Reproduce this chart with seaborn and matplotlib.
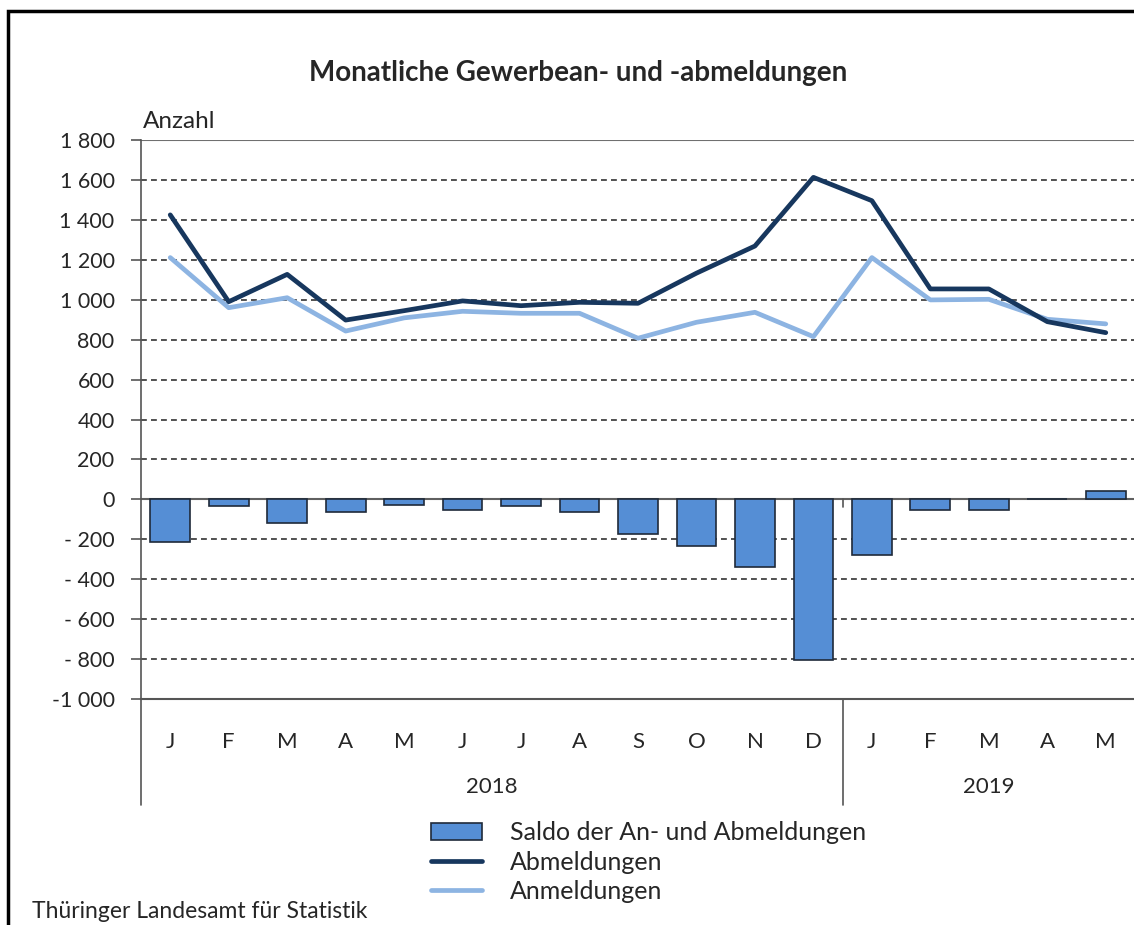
import numpy as np
import pandas as pd
import seaborn as sns
import matplotlib.pyplot as plt
from matplotlib.patches import Rectangle
import matplotlib.transforms as mtransforms

# values (Jan 2018 - May 2019)
months = ["J", "F", "M", "A", "M", "J", "J", "A", "S", "O", "N", "D",
          "J", "F", "M", "A", "M"]
years = ["2018", "2019"]
abmeldungen = [1425, 990, 1127, 898, 945, 994, 970, 987, 982, 1133, 1269, 1613,
               1496, 1054, 1054, 890, 835]
anmeldungen = [1211, 960, 1010, 843, 909, 942, 932, 932, 807, 887, 937, 815,
               1211, 999, 1002, 902, 879]
saldo = [-215, -35, -118, -61, -28, -55, -35, -61, -175, -233, -337, -804,
         -278, -55, -55, 4, 42]
yticks = [1800, 1600, 1400, 1200, 1000, 800, 600, 400, 200, 0,
          -200, -400, -600, -800, -1000]
ytick_labels = ["1 800", "1 600", "1 400", "1 200", "1 000", "800", "600", "400",
                "200", "0", "- 200", "- 400", "- 600", "- 800", "-1 000"]

df = pd.DataFrame({"pos": np.arange(len(months)), "saldo": saldo,
                   "ab": abmeldungen, "an": anmeldungen})

sns.set_style("white")
plt.rcParams["font.family"] = ["Lato", "DejaVu Sans"]

fig = plt.figure(figsize=(11.34, 9.25), dpi=100)
ax = fig.add_axes([141 / 1134, 1 - 699 / 925, 994 / 1134, 559 / 925])

for v in yticks[1:-1]:
    if v != 0:
        ax.axhline(v, color="#333333", lw=1.2, ls=(0, (3.5, 2.5)), zorder=0)
ax.axhline(1800, color="#707070", lw=1.5, zorder=0)
ax.axhline(0, color="#606060", lw=1.5, zorder=1)

sns.barplot(data=df, x="pos", y="saldo", color="#558ED5", width=0.68,
            edgecolor="#1F2A3A", linewidth=1.2, saturation=1, ax=ax,
            label="Saldo der An- und Abmeldungen", zorder=2)
sns.lineplot(data=df, x="pos", y="ab", color="#17375E", lw=3.4, ax=ax,
             label="Abmeldungen", zorder=4)
sns.lineplot(data=df, x="pos", y="an", color="#8DB4E2", lw=3.4, ax=ax,
             label="Anmeldungen", zorder=3)

ax.set_xlim(-0.5, len(months) - 0.5)
ax.set_ylim(-1000, 1800)
ax.set_yticks(yticks)
ax.set_yticklabels(ytick_labels, fontsize=15.5)
ax.set_xticks(df["pos"])
ax.set_xticklabels(months, fontsize=16)
ax.tick_params(axis="x", length=0, pad=24)
ax.tick_params(axis="y", left=True, length=7, width=1.2, color="#555555", pad=12)
ax.set_xlabel("")
ax.set_ylabel("")
for s in ["top", "right"]:
    ax.spines[s].set_visible(False)
ax.spines["left"].set_color("#555555")
ax.spines["left"].set_linewidth(1.2)
ax.spines["bottom"].set_color("#555555")
ax.spines["bottom"].set_linewidth(1.5)
ax.legend().remove()

# small tick at the year change on the zero line
ax.plot([11.5, 11.5], [0, -40], color="#555555", lw=1.2, zorder=1)

# year labels and separators below the axis
trans = mtransforms.blended_transform_factory(ax.transData, ax.transAxes)
for xs in [-0.5, 11.5]:
    ax.plot([xs, xs], [0, -0.19], color="#555555", lw=1.2, transform=trans,
            clip_on=False)
ax.text(5.5, -0.157, years[0], transform=trans, ha="center", va="center", fontsize=16)
ax.text(14.0, -0.157, years[1], transform=trans, ha="center", va="center", fontsize=16)

fig.text(578 / 1134, 1 - 73 / 925, "Monatliche Gewerbean- und -abmeldungen",
         ha="center", va="center", fontsize=20, fontweight="bold")
fig.text(143 / 1134, 1 - 121 / 925, "Anzahl", ha="left", va="center", fontsize=17.5)
fig.text(32 / 1134, 1 - 911 / 925, "Thüringer Landesamt für Statistik",
         ha="left", va="center", fontsize=16.5)

handles, labels = ax.get_legend_handles_labels()
order = [labels.index(l) for l in ["Saldo der An- und Abmeldungen", "Abmeldungen", "Anmeldungen"]]
fig.legend([handles[i] for i in order], [labels[i] for i in order],
           loc="upper left", bbox_to_anchor=(421 / 1134, 1 - 811 / 925),
           frameon=False, fontsize=18, handlelength=2.05, labelspacing=0.26,
           handletextpad=1.1, borderaxespad=0)

# outer frame (cropped on right/bottom)
fig.patches.append(Rectangle((8 / 1134, -0.1), 1.2, 1 - 11 / 925 + 0.1,
                             transform=fig.transFigure, fill=False,
                             edgecolor="black", lw=2.5))

fig.savefig("out.png", dpi=100)
